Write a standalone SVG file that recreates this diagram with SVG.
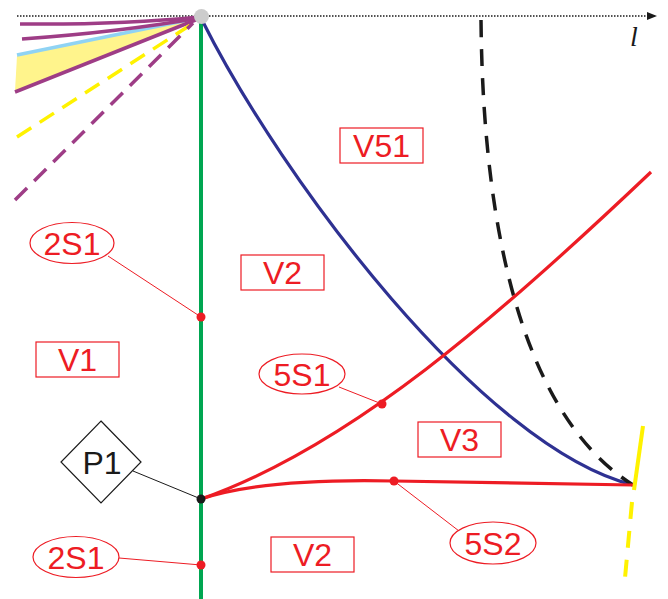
<svg xmlns="http://www.w3.org/2000/svg" width="668" height="599" viewBox="0 0 668 599">
<style>
.lbl{font-family:"Liberation Sans",Arial,sans-serif;font-size:32px;fill:#ed1c24;text-anchor:middle}
.box{fill:#fff;stroke:#ed1c24;stroke-width:1.2}
.ell{fill:#fff;stroke:#ed1c24;stroke-width:1.2}
.lead{stroke:#ed1c24;stroke-width:1;fill:none}
.pur{stroke:#9e3d86;stroke-width:3.5;fill:none}
.dot{fill:#ed1c24}
</style>
<defs>
<marker id="arr" markerWidth="10" markerHeight="8" refX="9" refY="4" orient="auto" markerUnits="userSpaceOnUse">
<path d="M0,0 L10,4 L0,8 Z" fill="#1a1a1a"/>
</marker>
</defs>
<rect width="668" height="599" fill="#fff"/>
<!-- axis -->
<line x1="17" y1="16" x2="656" y2="16" stroke="#1a1a1a" stroke-width="1.5" stroke-dasharray="1.5 1.5" marker-end="url(#arr)"/>
<text x="634" y="46" font-family="'Liberation Serif',serif" font-style="italic" font-size="28" fill="#1a1a1a" text-anchor="middle">l</text>
<!-- fan -->
<g id="fan">
<polygon points="17,56 198,18 15,91" fill="#fff48c"/>
<line x1="17" y1="55" x2="198" y2="18" stroke="#8fd3f4" stroke-width="3.5"/>
<path class="pur" d="M20,24 Q120,25 199,17"/>
<path class="pur" d="M22,39 Q120,32 199,18"/>
<path class="pur" d="M15,92 L198,19"/>
<line x1="17" y1="137" x2="192" y2="24" stroke="#fff200" stroke-width="3.5" stroke-dasharray="17 10"/>
<line x1="15" y1="200" x2="193" y2="23" stroke="#9e3d86" stroke-width="3.5" stroke-dasharray="17 10"/>
</g>
<g id="curves">
<line x1="201" y1="17" x2="201" y2="599" stroke="#00a651" stroke-width="4"/>
<path d="M202,20 C282,180 483,447.5 633,485" fill="none" stroke="#2e3192" stroke-width="3.2"/>
<path d="M481,20 C483,250 530,420 633,485" fill="none" stroke="#1a1a1a" stroke-width="3.5" stroke-dasharray="17 12"/>
<path d="M201,499 C351,446.5 501,314.5 651,172" fill="none" stroke="#ed1c24" stroke-width="3.2"/>
<path d="M201,499 C240,486 300,479 394,481 C480,483 560,484 633,485" fill="none" stroke="#ed1c24" stroke-width="3.2"/>
<line x1="643" y1="426" x2="634" y2="490" stroke="#fff200" stroke-width="4"/>
<line x1="632" y1="502" x2="625" y2="578" stroke="#fff200" stroke-width="4" stroke-dasharray="17 12"/>
<circle cx="201.5" cy="16.5" r="7.5" fill="#cccccc"/>
</g>
<g id="connectors">
<line class="lead" x1="108" y1="256" x2="201" y2="317"/>
<line class="lead" x1="119" y1="558" x2="201" y2="565"/>
<line class="lead" x1="339" y1="387" x2="382" y2="404"/>
<line class="lead" x1="459" y1="531" x2="394" y2="481"/>
<line x1="133" y1="471" x2="201" y2="499" stroke="#1a1a1a" stroke-width="1"/>
<circle class="dot" cx="201" cy="317" r="4.5"/>
<circle class="dot" cx="201" cy="565" r="4.5"/>
<circle class="dot" cx="382" cy="404" r="4.5"/>
<circle class="dot" cx="394" cy="481" r="4.5"/>
<circle cx="201" cy="499" r="4.5" fill="#1a1a1a"/>
</g>
<g id="V51"><rect class="box" x="340" y="128" width="83" height="35"/><text class="lbl" x="381.5" y="157">V51</text></g>
<g id="V2a"><rect class="box" x="241" y="255" width="83" height="35"/><text class="lbl" x="282.5" y="284">V2</text></g>
<g id="V1"><rect class="box" x="36" y="342" width="83" height="35"/><text class="lbl" x="77.5" y="371">V1</text></g>
<g id="V3"><rect class="box" x="418" y="422" width="83" height="35"/><text class="lbl" x="459.5" y="451">V3</text></g>
<g id="V2b"><rect class="box" x="271" y="537" width="83" height="35"/><text class="lbl" x="312.5" y="566">V2</text></g>
<g id="n2S1a"><ellipse class="ell" cx="72" cy="243" rx="42" ry="20.5"/><text class="lbl" x="72" y="254.5">2S1</text></g>
<g id="n2S1b"><ellipse class="ell" cx="76" cy="557" rx="43" ry="20.5"/><text class="lbl" x="76" y="568.5">2S1</text></g>
<g id="n5S1"><ellipse class="ell" cx="302" cy="374" rx="43" ry="20"/><text class="lbl" x="302" y="385.5">5S1</text></g>
<g id="n5S2"><ellipse class="ell" cx="493" cy="543" rx="43" ry="21"/><text class="lbl" x="493" y="554.5">5S2</text></g>
<g id="P1"><polygon points="101,421 141,462 101,503 61,462" fill="#fff" stroke="#1a1a1a" stroke-width="1.2"/><text x="102" y="474" font-family="'Liberation Sans',Arial,sans-serif" font-size="32" fill="#1a1a1a" text-anchor="middle">P1</text></g>
</svg>
